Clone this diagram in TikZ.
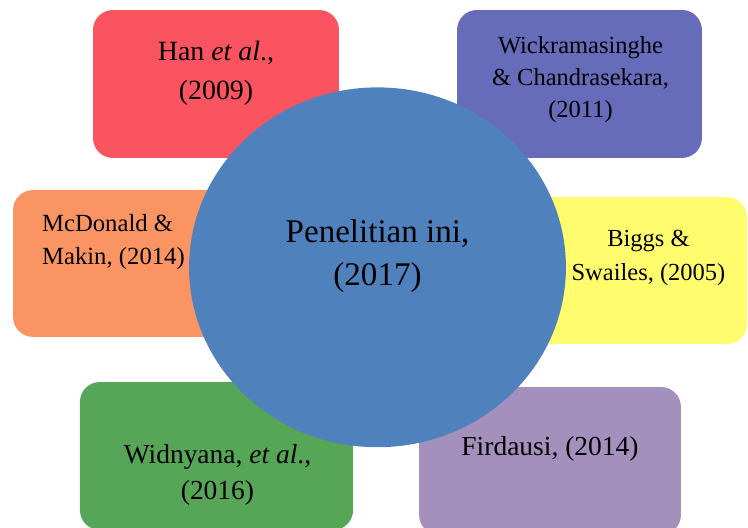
\documentclass[tikz,border=0pt]{standalone}
\usepackage{fontspec}
\setmainfont{Liberation Serif}
\usepackage{tikz}
\usetikzlibrary{shapes,positioning}
\definecolor{hanred}{RGB}{250,84,96}
\definecolor{wickblue}{RGB}{102,107,186}
\definecolor{mcorange}{RGB}{251,148,99}
\definecolor{biggsyellow}{RGB}{255,252,110}
\definecolor{widgreen}{RGB}{87,166,88}
\definecolor{firlilac}{RGB}{164,144,189}
\definecolor{iniblue}{RGB}{79,129,189}
\tikzset{>=latex}

\begin{document}
\begin{tikzpicture}[
    box/.style={rectangle,rounded corners=0.35cm,inner sep=0,minimum width=4.34cm,minimum height=2.61cm},
    lbl/.style={inner sep=0,align=center}]
      \useasboundingbox (0,0) rectangle (13.2,9.3);

      % literature boxes
      \node [box,fill=hanred] (han) at (3.812,7.818) {};
      \node [box,fill=wickblue,minimum width=4.32cm] (wick) at (10.226,7.818) {};
      \node [box,fill=mcorange,minimum height=2.59cm] (mcd) at (2.4,4.65) {};
      \node [box,fill=biggsyellow,minimum height=2.59cm] (biggs) at (11.012,4.526) {};
      \node [box,fill=widgreen,minimum width=4.82cm] (wid) at (3.821,1.253) {};
      \node [box,fill=firlilac,minimum width=4.62cm] (fir) at (9.706,1.165) {};

      \node [lbl,font=\fontsize{14}{19.5}\selectfont] (hantxt) at (3.812,8.0) {Han \textit{et al}.,\\(2009)};
      \node [lbl,font=\fontsize{12.3}{16.25}\selectfont] (wicktxt) at (10.244,7.897) {Wickramasinghe\\\& Chandrasekara,\\(2011)};
      \node [lbl,align=left,anchor=west,font=\fontsize{12.4}{16.7}\selectfont] (mcdtxt) at (0.736,5.024) {McDonald \&\\Makin, (2014)};
      \node [lbl,font=\fontsize{12.3}{17}\selectfont] (biggstxt) at (11.444,4.752) {Biggs \&\\Swailes, (2005)};
      \node [lbl,font=\fontsize{13.8}{18}\selectfont] (widtxt) at (3.838,0.918) {Widnyana, \textit{et al}.,\\(2016)};
      \node [lbl,font=\fontsize{13.8}{18}\selectfont] (firtxt) at (9.706,1.385) {Firdausi, (2014)};

      % centre
      \node [ellipse,fill=iniblue,inner sep=0,minimum width=6.65cm,minimum height=6.35cm] (ini) at (6.662,4.583) {};
      \node [lbl,font=\fontsize{16.6}{22}\selectfont] (initxt) at (6.662,4.782) {Penelitian ini,\\(2017)};
    \end{tikzpicture}
\end{document}
